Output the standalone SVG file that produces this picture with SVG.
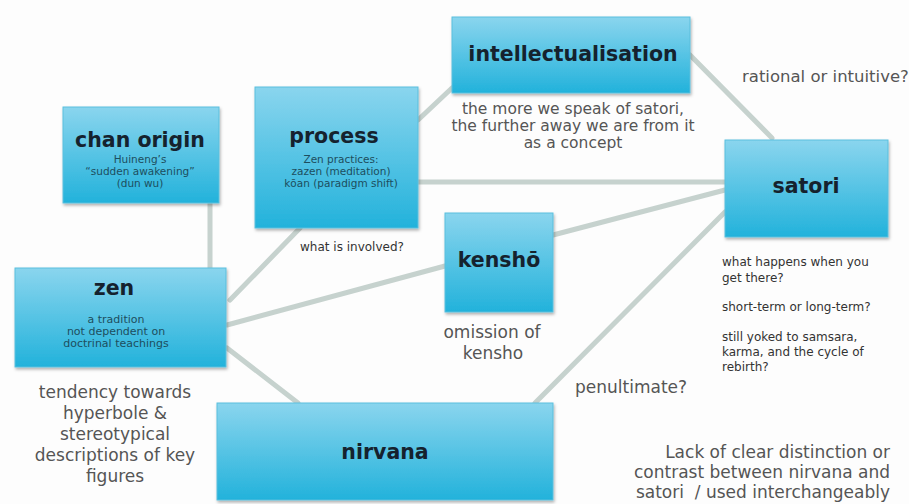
<svg xmlns="http://www.w3.org/2000/svg" width="909" height="504" viewBox="0 0 909 504">
<defs>
  <linearGradient id="boxfill" x1="0" y1="0" x2="0" y2="1">
    <stop offset="0" stop-color="#8ad5ee"/>
    <stop offset="1" stop-color="#22b2db"/>
  </linearGradient>
  <filter id="shadow" x="-10%" y="-10%" width="120%" height="130%">
    <feDropShadow dx="1" dy="2" stdDeviation="1.5" flood-color="#000" flood-opacity="0.3"/>
  </filter>
  <style>
    .box { fill: url(#boxfill); stroke: #5bbfdd; stroke-width: 1; filter: url(#shadow); }
    .title { font-family: "DejaVu Sans", sans-serif; font-weight: bold; font-size: 20.5px; fill: #15222e; text-anchor: middle; }
    .sub { font-family: "DejaVu Sans", sans-serif; fill: #1d4e5e; text-anchor: middle; }
    .note { font-family: "DejaVu Sans", sans-serif; fill: #555; }
    .dark { font-family: "DejaVu Sans", sans-serif; fill: #333; }
    .conn { stroke: #c6d2ce; stroke-width: 5; stroke-linecap: round; fill: none; }
  </style>
</defs>
<rect width="909" height="504" fill="#fdfdfd"/>

<g id="connectors">
  <line class="conn" x1="210" y1="203" x2="210" y2="268"/>
  <line class="conn" x1="230" y1="300" x2="300" y2="228"/>
  <line class="conn" x1="227" y1="325" x2="445" y2="266"/>
  <line class="conn" x1="227" y1="348" x2="298" y2="403"/>
  <line class="conn" x1="418" y1="120" x2="452" y2="88"/>
  <line class="conn" x1="418" y1="182" x2="725" y2="182"/>
  <line class="conn" x1="690" y1="55" x2="772" y2="138"/>
  <line class="conn" x1="553" y1="235" x2="725" y2="190"/>
  <line class="conn" x1="535" y1="403" x2="725" y2="212"/>
</g>

<g id="chan-origin">
  <rect class="box" x="63" y="107" width="156" height="96"/>
  <text class="title" x="140" y="147">chan origin</text>
  <text class="sub" font-size="10.5" x="140" y="163">Huineng’s</text>
  <text class="sub" font-size="10.5" x="140" y="175">“sudden awakening”</text>
  <text class="sub" font-size="10.5" x="140" y="187">(dun wu)</text>
</g>

<g id="process">
  <rect class="box" x="255" y="87" width="163" height="141"/>
  <text class="title" x="334" y="143">process</text>
  <text class="sub" font-size="10.5" x="341" y="163">Zen practices:</text>
  <text class="sub" font-size="10.5" x="341" y="175">zazen (meditation)</text>
  <text class="sub" font-size="10.5" x="341" y="187">kōan (paradigm shift)</text>
  <text class="dark" font-size="12" x="300" y="251">what is involved?</text>
</g>

<g id="intellectualisation">
  <rect class="box" x="452" y="17" width="238" height="76"/>
  <text class="title" x="573" y="61">intellectualisation</text>
  <text class="note" font-size="15.5" text-anchor="middle" x="573" y="114">the more we speak of satori,</text>
  <text class="note" font-size="15.5" text-anchor="middle" x="573" y="131">the further away we are from it</text>
  <text class="note" font-size="15.5" text-anchor="middle" x="573" y="148">as a concept</text>
</g>

<g id="satori">
  <rect class="box" x="725" y="140" width="163" height="97"/>
  <text class="title" x="806" y="193">satori</text>
  <text class="note" font-size="16.5" x="742" y="82">rational or intuitive?</text>
  <text class="dark" font-size="12" x="722" y="266">what happens when you</text>
  <text class="dark" font-size="12" x="722" y="282">get there?</text>
  <text class="dark" font-size="12" x="722" y="311">short-term or long-term?</text>
  <text class="dark" font-size="12" x="722" y="341">still yoked to samsara,</text>
  <text class="dark" font-size="12" x="722" y="356">karma, and the cycle of</text>
  <text class="dark" font-size="12" x="722" y="371">rebirth?</text>
</g>

<g id="kensho">
  <rect class="box" x="445" y="213" width="108" height="99"/>
  <text class="title" x="499" y="267">kenshō</text>
  <text class="note" font-size="17" text-anchor="middle" x="492" y="338">omission of</text>
  <text class="note" font-size="17" text-anchor="middle" x="493" y="359">kensho</text>
  <text class="note" font-size="17" x="575" y="393">penultimate?</text>
</g>

<g id="zen">
  <rect class="box" x="15" y="268" width="211" height="99"/>
  <text class="title" x="114" y="295">zen</text>
  <text class="sub" font-size="11" x="116" y="323">a tradition</text>
  <text class="sub" font-size="11" x="116" y="335">not dependent on</text>
  <text class="sub" font-size="11" x="116" y="347">doctrinal teachings</text>
  <text class="note" font-size="17" text-anchor="middle" x="115" y="398">tendency towards</text>
  <text class="note" font-size="17" text-anchor="middle" x="115" y="419">hyperbole &amp;</text>
  <text class="note" font-size="17" text-anchor="middle" x="115" y="440">stereotypical</text>
  <text class="note" font-size="17" text-anchor="middle" x="115" y="461">descriptions of key</text>
  <text class="note" font-size="17" text-anchor="middle" x="115" y="482">figures</text>
</g>

<g id="nirvana">
  <rect class="box" x="217" y="403" width="336" height="97"/>
  <text class="title" x="385" y="459">nirvana</text>
  <text class="note" font-size="17" text-anchor="end" x="890" y="458">Lack of clear distinction or</text>
  <text class="note" font-size="17" text-anchor="end" x="890" y="478">contrast between nirvana and</text>
  <text class="note" font-size="17" text-anchor="end" x="890" y="498" xml:space="preserve" style="white-space:pre">satori  / used interchangeably</text>
</g>
</svg>
